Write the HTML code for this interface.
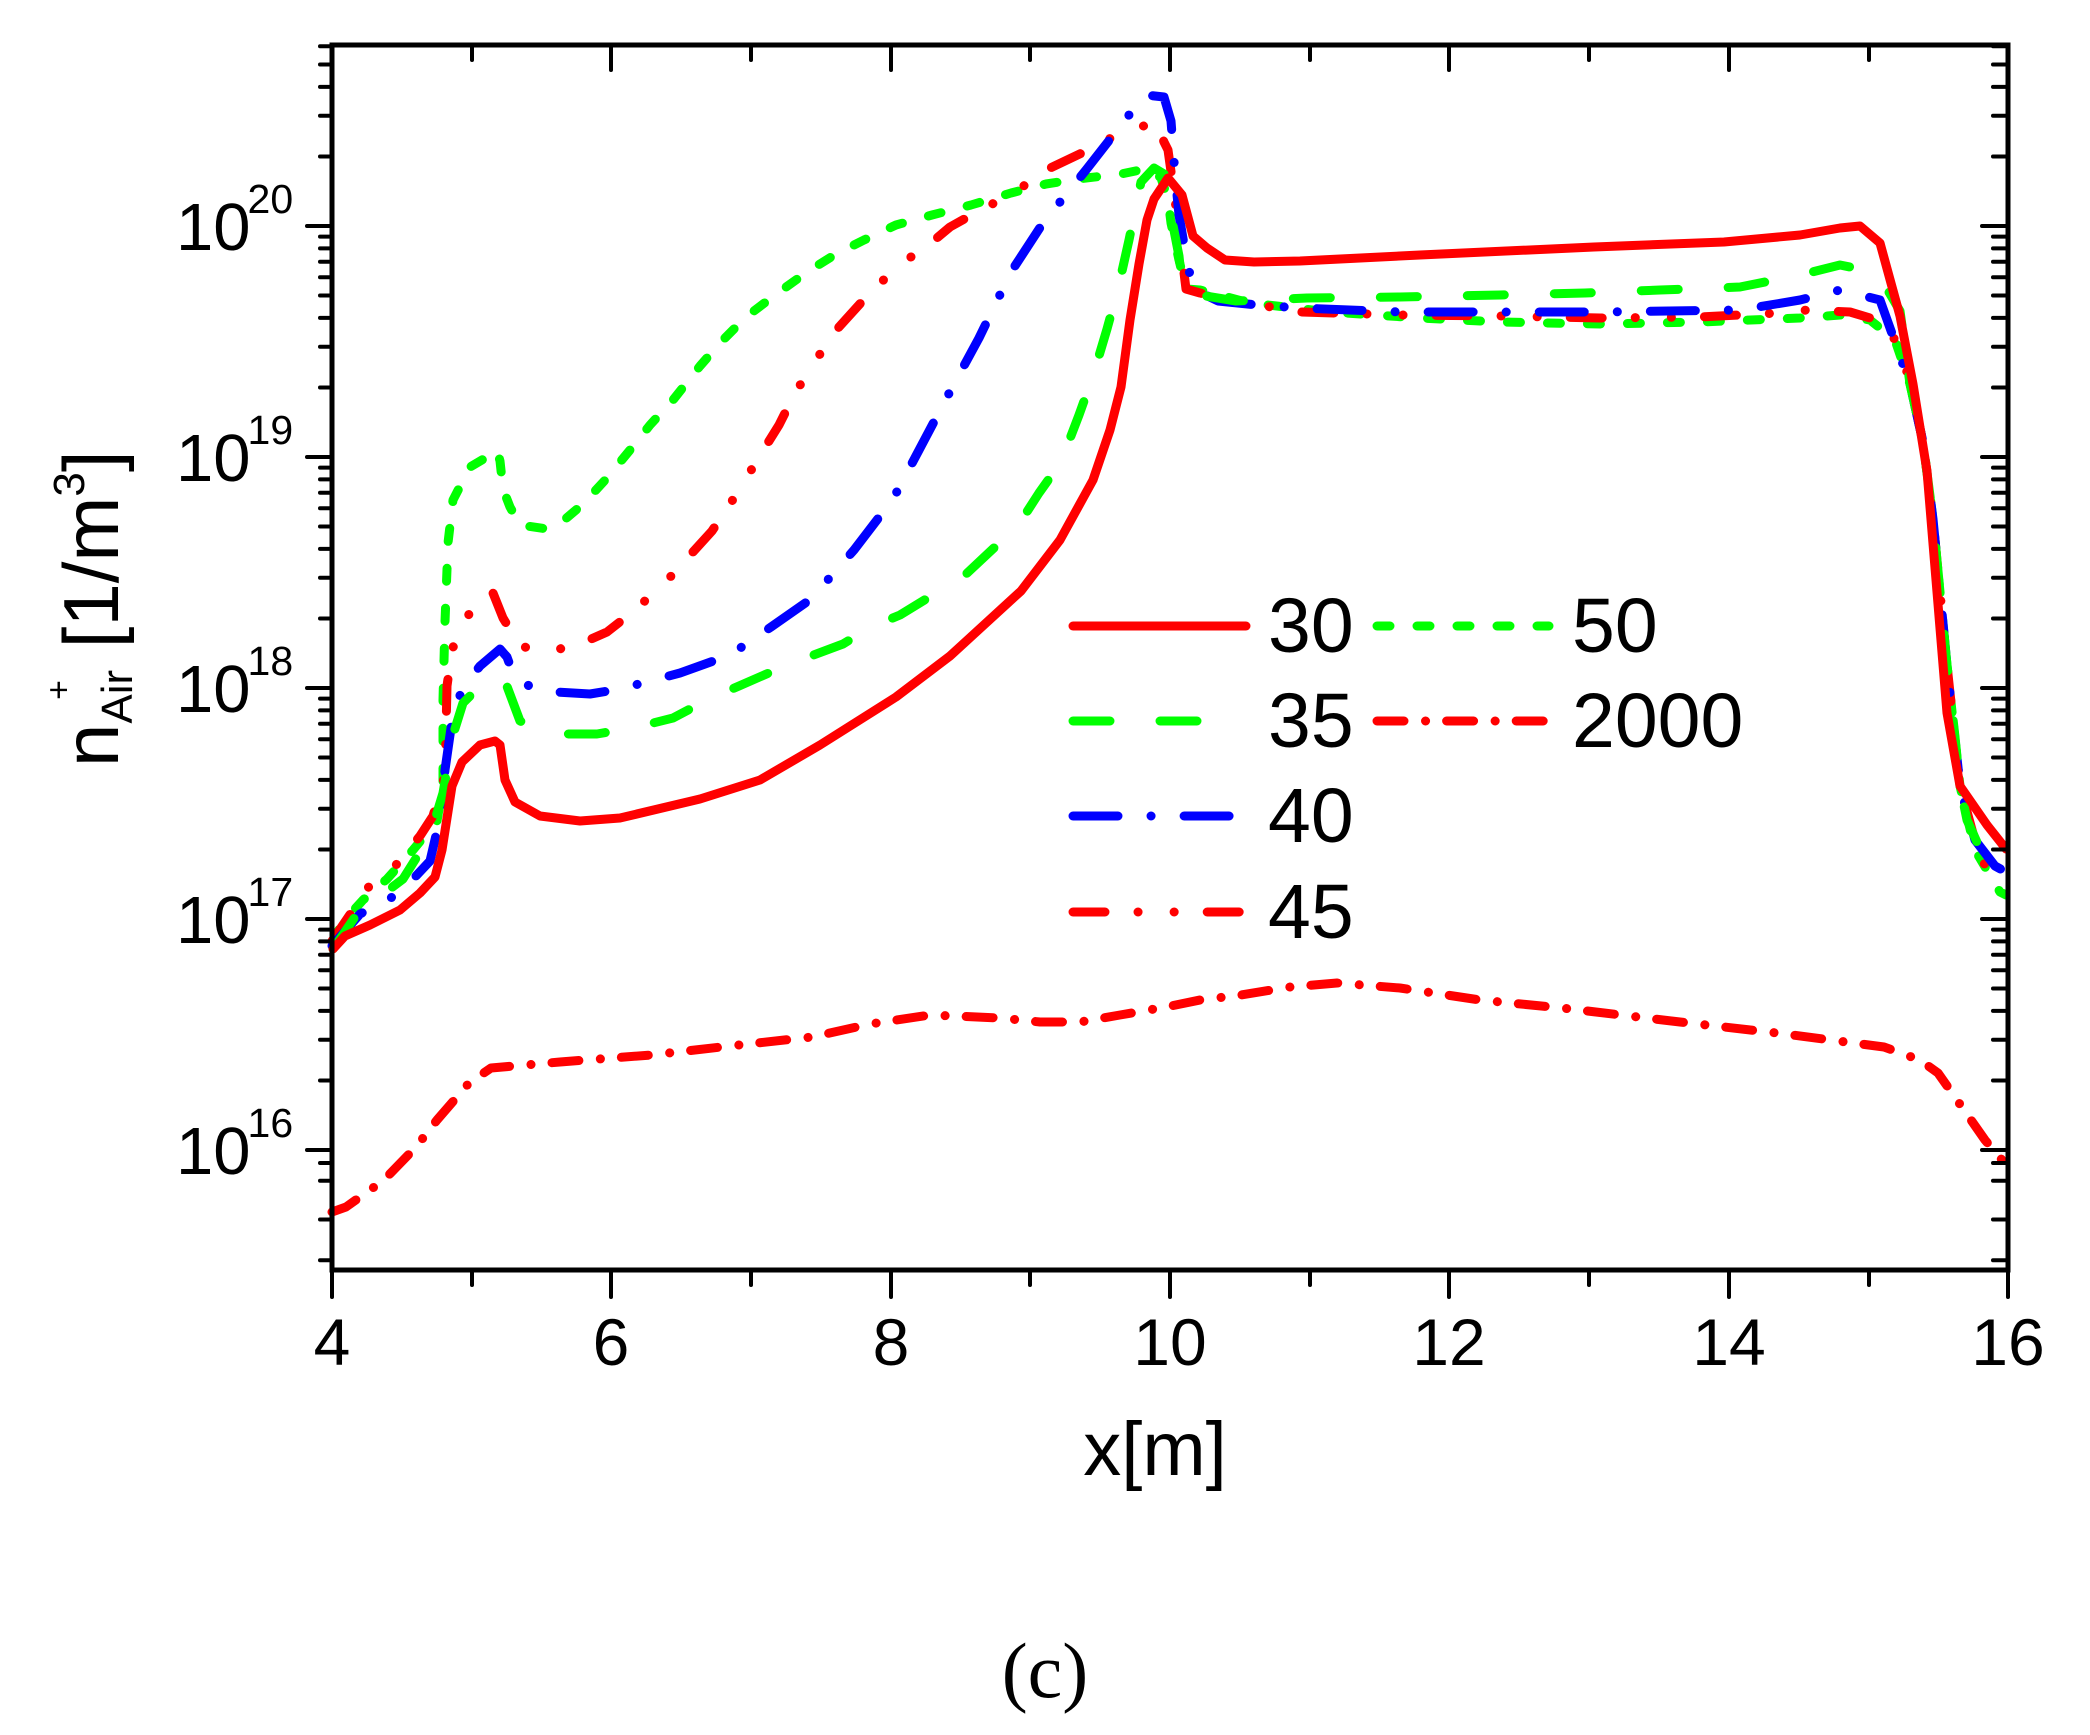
<!DOCTYPE html>
<html><head><meta charset="utf-8"><style>
html,body{margin:0;padding:0;background:#fff;}
svg{display:block;}
</style></head><body>
<svg width="2090" height="1735" viewBox="0 0 2090 1735" xmlns="http://www.w3.org/2000/svg" font-family="'Liberation Sans', Arial, sans-serif">
<rect width="2090" height="1735" fill="#fff"/>
<g fill="none" stroke-width="9" stroke-linecap="round" stroke-linejoin="round">
<!-- 2000 -->
<polyline stroke="#ff0000" stroke-dasharray="27 21.5 0.1 21" points="332,1212 346,1207 384,1180 416,1147 437,1120 469,1083 491,1068 560,1062 651,1055 730,1046 812,1037 870,1024 930,1015 1000,1018 1040,1022 1080,1022 1120,1015 1166,1007 1200,1000 1241,995 1290,987 1337,983 1400,988 1480,1000 1562,1008 1680,1022 1777,1033 1884,1047 1920,1060 1938,1073 1964,1110 1985,1140 2002,1160 2006,1165"/>
<!-- 50 -->
<polyline stroke="#00ff00" stroke-dasharray="13 27" points="333,941 343,922 363,900 387,879 413,850 437,821 443,786 443,700 445,622 448,543 453,500 470,467 487,457 497,450 500,461 503,489 510,507 520,525 547,529 563,521 583,504 607,478 630,450 650,425 673,400 700,366 721,342 746,317 775,295 807,272 836,254 864,240 896,225 932,215 971,205 1011,193 1046,184 1086,178 1121,174 1150,168 1161,178 1168,199 1171,223 1179,260 1186,289 1200,290 1250,303 1330,312 1420,318 1500,322 1600,324 1700,322 1800,318 1840,315 1870,320 1895,340 1910,384 1923,442 1933,519 1947,665 1960,786 1975,850 2000,892 2006,895"/>
<!-- 45 -->
<polyline stroke="#ff0000" stroke-dasharray="32 33 0.1 36 0.1 33" points="332,941 370,885 397,864 420,836 433,816 445,775 447,686 452,650 463,622 477,604 493,593 503,618 520,646 547,652 580,644 607,632 630,614 663,585 692,553 712,531 736,495 761,454 779,425 795,393 820,354 839,327 868,295 900,264 925,248 950,227 986,207 1011,195 1046,170 1086,151 1111,138 1139,127 1157,123 1164,142 1168,150 1175,200 1186,289 1200,293 1236,301 1300,312 1400,315 1500,316 1600,318 1700,317 1780,313 1800,310 1850,312 1877,320 1900,345 1910,384 1923,442 1933,519 1947,665 1960,786 1980,859 2006,888"/>
<!-- 40 -->
<polyline stroke="#0000ff" stroke-dasharray="45 33 0.1 33" points="332,946 360,914 400,893 430,861 440,818 445,770 452,721 462,689 480,666 500,649 507,657 515,679 540,691 590,694 620,689 680,673 730,655 771,627 811,599 854,550 893,499 918,452 946,399 979,338 1011,272 1043,223 1086,170 1129,115 1146,95 1164,97 1171,121 1175,174 1179,215 1186,256 1193,289 1218,301 1257,305 1300,308 1400,312 1600,312 1740,310 1800,300 1840,290 1880,300 1910,384 1923,442 1933,519 1947,665 1960,786 1975,840 1995,866 2006,872"/>
<!-- 35 -->
<polyline stroke="#00ff00" stroke-dasharray="37 50" points="333,949 357,914 403,879 430,836 443,793 453,735 463,703 477,689 497,676 505,681 520,721 553,734 597,734 637,727 673,718 707,700 739,686 771,672 811,656 843,644 871,627 900,615 936,593 964,576 996,546 1021,521 1039,493 1061,462 1079,415 1093,376 1107,329 1118,289 1129,240 1141,182 1154,168 1164,174 1171,215 1179,256 1182,285 1200,295 1236,301 1307,298 1400,297 1500,295 1585,293 1660,290 1740,287 1800,275 1840,265 1855,268 1880,277 1900,311 1910,384 1923,442 1933,519 1940,592 1947,665 1955,737 1960,786 1967,820 1985,860 2006,880"/>
<!-- 30 -->
<polyline stroke="#ff0000" points="333,949 345,936 370,925 400,910 420,893 435,877 442,850 447,818 452,786 462,762 480,745 495,741 500,745 505,780 515,802 540,816 580,821 620,818 700,799 760,780 820,745 896,697 950,656 1021,591 1060,540 1093,480 1110,430 1121,387 1130,320 1139,264 1147,220 1154,199 1168,178 1182,195 1193,236 1207,248 1225,260 1254,262 1300,261 1420,255 1594,247 1724,242 1800,235 1840,228 1860,226 1880,243 1900,316 1913,384 1927,471 1937,592 1947,713 1960,786 1987,825 2006,849"/>
</g>
<!-- axes frame -->
<rect x="332" y="45" width="1676" height="1225" fill="none" stroke="#000" stroke-width="5"/>
<g stroke="#000" stroke-width="4" stroke-linecap="round">
<line x1="332" y1="1270" x2="332" y2="1297"/><line x1="611" y1="1270" x2="611" y2="1297"/><line x1="891" y1="1270" x2="891" y2="1297"/><line x1="1170" y1="1270" x2="1170" y2="1297"/><line x1="1449" y1="1270" x2="1449" y2="1297"/><line x1="1729" y1="1270" x2="1729" y2="1297"/><line x1="2008" y1="1270" x2="2008" y2="1297"/>
<line x1="472" y1="1270" x2="472" y2="1285"/><line x1="751" y1="1270" x2="751" y2="1285"/><line x1="1030" y1="1270" x2="1030" y2="1285"/><line x1="1310" y1="1270" x2="1310" y2="1285"/><line x1="1589" y1="1270" x2="1589" y2="1285"/><line x1="1869" y1="1270" x2="1869" y2="1285"/>
<line x1="611" y1="45" x2="611" y2="70"/><line x1="891" y1="45" x2="891" y2="70"/><line x1="1170" y1="45" x2="1170" y2="70"/><line x1="1449" y1="45" x2="1449" y2="70"/><line x1="1729" y1="45" x2="1729" y2="70"/>
<line x1="472" y1="45" x2="472" y2="60"/><line x1="751" y1="45" x2="751" y2="60"/><line x1="1030" y1="45" x2="1030" y2="60"/><line x1="1310" y1="45" x2="1310" y2="60"/><line x1="1589" y1="45" x2="1589" y2="60"/><line x1="1869" y1="45" x2="1869" y2="60"/>
</g>
<g stroke="#000" stroke-width="4" stroke-linecap="round">
<line x1="307" y1="226" x2="332" y2="226"/><line x1="307" y1="457" x2="332" y2="457"/><line x1="307" y1="688" x2="332" y2="688"/><line x1="307" y1="919" x2="332" y2="919"/><line x1="307" y1="1150" x2="332" y2="1150"/>
<line x1="1982" y1="226" x2="2008" y2="226"/><line x1="1982" y1="457" x2="2008" y2="457"/><line x1="1982" y1="688" x2="2008" y2="688"/><line x1="1982" y1="919" x2="2008" y2="919"/><line x1="1982" y1="1150" x2="2008" y2="1150"/>
</g>
<g stroke="#000" stroke-width="4" stroke-linecap="round">
<path d="M320 156.5H332M320 115.8H332M320 86.9H332M320 64.5H332M320 46.3H332
M320 387.5H332M320 346.8H332M320 317.9H332M320 295.5H332M320 277.3H332M320 261.8H332M320 248.4H332M320 236.6H332
M320 618.5H332M320 577.8H332M320 548.9H332M320 526.5H332M320 508.3H332M320 492.8H332M320 479.4H332M320 467.6H332
M320 849.5H332M320 808.8H332M320 779.9H332M320 757.5H332M320 739.3H332M320 723.8H332M320 710.4H332M320 698.6H332
M320 1080.5H332M320 1039.8H332M320 1010.9H332M320 988.5H332M320 970.3H332M320 954.8H332M320 941.4H332M320 929.6H332
M320 1219.5H332M320 1260.2H332M320 1180.8H332M320 1163.0H332"/>
<path d="M1993 156.5H2008M1993 115.8H2008M1993 86.9H2008M1993 64.5H2008M1993 46.3H2008
M1993 387.5H2008M1993 346.8H2008M1993 317.9H2008M1993 295.5H2008M1993 277.3H2008M1993 261.8H2008M1993 248.4H2008M1993 236.6H2008
M1993 618.5H2008M1993 577.8H2008M1993 548.9H2008M1993 526.5H2008M1993 508.3H2008M1993 492.8H2008M1993 479.4H2008M1993 467.6H2008
M1993 849.5H2008M1993 808.8H2008M1993 779.9H2008M1993 757.5H2008M1993 739.3H2008M1993 723.8H2008M1993 710.4H2008M1993 698.6H2008
M1993 1080.5H2008M1993 1039.8H2008M1993 1010.9H2008M1993 988.5H2008M1993 970.3H2008M1993 954.8H2008M1993 941.4H2008M1993 929.6H2008
M1993 1219.5H2008M1993 1260.2H2008M1993 1180.8H2008M1993 1163.0H2008"/>
</g>
<g font-size="67" fill="#000">
<text x="176" y="250">10<tspan font-size="41" dx="-3" dy="-37">20</tspan></text>
<text x="176" y="481">10<tspan font-size="41" dx="-3" dy="-37">19</tspan></text>
<text x="176" y="712">10<tspan font-size="41" dx="-3" dy="-37">18</tspan></text>
<text x="176" y="943">10<tspan font-size="41" dx="-3" dy="-37">17</tspan></text>
<text x="176" y="1174">10<tspan font-size="41" dx="-3" dy="-37">16</tspan></text>
</g>
<g font-size="66" fill="#000" text-anchor="middle">
<text x="332" y="1365">4</text><text x="611" y="1365">6</text><text x="891" y="1365">8</text><text x="1170" y="1365">10</text><text x="1449" y="1365">12</text><text x="1729" y="1365">14</text><text x="2008" y="1365">16</text>
</g>
<text x="1155" y="1475" font-size="76" text-anchor="middle" fill="#000">x[m]</text>
<text transform="translate(118,767) rotate(-90)" font-size="78" fill="#000">n<tspan font-size="44" dy="14">Air</tspan><tspan font-size="34" dx="-30" dy="-62">+</tspan><tspan font-size="78" dx="10" dy="48"> [1/m</tspan><tspan font-size="44" dy="-34">3</tspan><tspan font-size="78" dy="34">]</tspan></text>
<text x="1045" y="1697" font-size="78" text-anchor="middle" font-family="'Liberation Serif', serif" fill="#000">(c)</text>
<g fill="none" stroke-width="9" stroke-linecap="round">
<line x1="1073" y1="626" x2="1246" y2="626" stroke="#ff0000"/>
<line x1="1073" y1="721" x2="1246" y2="721" stroke="#00ff00" stroke-dasharray="37 50"/>
<line x1="1073" y1="816" x2="1246" y2="816" stroke="#0000ff" stroke-dasharray="45 33 0.1 33"/>
<line x1="1073" y1="912" x2="1246" y2="912" stroke="#ff0000" stroke-dasharray="32 33 0.1 36 0.1 33"/>
<line x1="1377" y1="626" x2="1549" y2="626" stroke="#00ff00" stroke-dasharray="13 27"/>
<line x1="1377" y1="721" x2="1549" y2="721" stroke="#ff0000" stroke-dasharray="27 21.5 0.1 21"/>
</g>
<g font-size="77" fill="#000">
<text x="1268" y="652">30</text><text x="1268" y="747">35</text><text x="1268" y="842">40</text><text x="1268" y="938">45</text>
<text x="1572" y="652">50</text><text x="1572" y="747">2000</text>
</g>
</svg>
</body></html>
